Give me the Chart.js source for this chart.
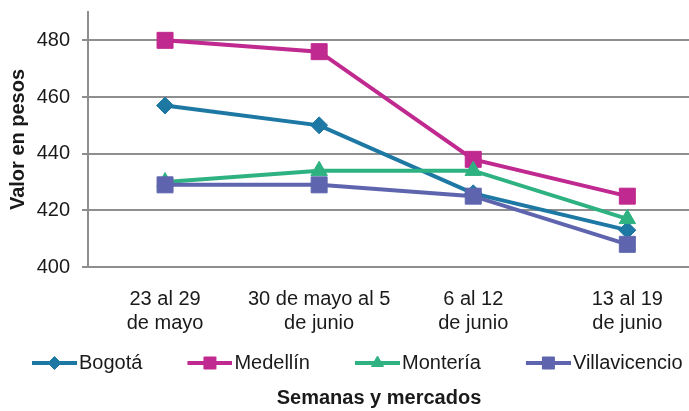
<!DOCTYPE html>
<html>
<head>
<meta charset="utf-8">
<script src="https://cdn.jsdelivr.net/npm/chart.js@4"></script>
<style>
	html, body { margin: 0; background: #fff; overflow: hidden; }
	canvas { display: block; }
</style>
</head>
<body>
<!-- the plot area runs a little past the right edge of the window, like the original -->
<canvas id="priceChart" width="709" height="411"></canvas>
<script>
// Weeks (x axis), two lines per label
const weekLabels = [
	["23 al 29", "de mayo"],
	["30 de mayo al 5", "de junio"],
	["6 al 12", "de junio"],
	["13 al 19", "de junio"]
];

const markets = ["Bogotá", "Medellín", "Montería", "Villavicencio"];

// Valor en pesos por semana
const bogota = [457, 450, 426, 413];
const medellin = [480, 476, 438, 425];
const monteria = [430, 434, 434, 417];
const villavicencio = [429, 429, 425, 408];

const yTicks = [400, 420, 440, 460, 480];

const FONT = "'Liberation Sans', Arial, sans-serif";
const TEXT = "#1a1a1a";
const GRID = "#8e8e8e";

const series = [
	{ values: bogota, color: "#1d78a4", style: "rectRot", radius: 8.5, legendRadius: 6.5 },
	{ values: medellin, color: "#c0298f", style: "rect", radius: 11.3, legendRadius: 8.5 },
	{ values: monteria, color: "#2fb282", style: "triangle", radius: 9.5, legendRadius: 7 },
	{ values: villavicencio, color: "#5e65ae", style: "rect", radius: 11.3, legendRadius: 8.5 }
];

// legend icon: short line with the marker in the middle,
// drawn centred on the legend box so the empty left part acts as spacing
function makeIcon(s) {
	const c = document.createElement("canvas");
	c.width = 88;
	c.height = 20;
	const ctx = c.getContext("2d");
	ctx.strokeStyle = s.color;
	ctx.fillStyle = s.color;
	ctx.lineWidth = 4;
	ctx.beginPath();
	ctx.moveTo(43, 10);
	ctx.lineTo(88, 10);
	ctx.stroke();
	ctx.lineWidth = 1;
	Chart.helpers.drawPoint(ctx, { pointStyle: s.style, radius: s.legendRadius, rotation: 0, borderWidth: 1 }, 65.5, 10);
	return c;
}
const legendIcons = series.map(makeIcon);

// x axis caption sits below the legend
const axisCaption = {
	id: "axisCaption",
	afterDraw(chart) {
		const ctx = chart.ctx;
		ctx.save();
		ctx.font = "bold 20px " + FONT;
		ctx.fillStyle = TEXT;
		ctx.textAlign = "center";
		ctx.textBaseline = "middle";
		ctx.fillText("Semanas y mercados", chart.chartArea.left + 291, chart.height - 13);
		ctx.restore();
	}
};

Chart.defaults.font.family = FONT;
Chart.defaults.font.size = 20;
Chart.defaults.color = TEXT;

const ctx = document.getElementById("priceChart").getContext("2d");
new Chart(ctx, {
	type: "line",
	data: {
		datasets: series.map((s, i) => ({
			label: markets[i],
			data: s.values.map((v, j) => ({ x: j, y: v })),
			borderColor: s.color,
			backgroundColor: s.color,
			borderWidth: 4,
			pointStyle: s.style,
			pointRadius: s.radius,
			pointBorderWidth: 1,
			pointBackgroundColor: s.color,
			pointBorderColor: s.color,
			tension: 0,
			order: series.length - i
		}))
	},
	options: {
		responsive: false,
		animation: false,
		layout: {
			autoPadding: false,
			padding: { left: -13, top: 12, right: 0, bottom: 28 }
		},
		scales: {
			x: {
				type: "linear",
				min: -0.5,
				max: 3.53,
				grid: { display: false, drawTicks: false },
				border: { display: true, color: GRID, width: 2 },
				afterBuildTicks: axis => {
					axis.ticks = weekLabels.map((_, i) => ({ value: i }));
				},
				afterFit: scale => {
					scale.height = 76;
					scale.paddingLeft = 0;
					scale.paddingRight = 0;
				},
				ticks: {
					padding: 20,
					maxRotation: 0,
					autoSkip: false,
					font: { size: 20, lineHeight: 1.2 },
					callback: value => weekLabels[value]
				}
			},
			y: {
				min: 400,
				max: 490,
				afterBuildTicks: axis => {
					axis.ticks = yTicks.map(v => ({ value: v }));
				},
				afterFit: scale => {
					scale.width = 101;
					scale.paddingTop = 0;
					scale.paddingBottom = 0;
				},
				grid: { color: GRID, lineWidth: 2, tickLength: 6 },
				border: { display: true, color: GRID, width: 2 },
				ticks: { padding: 12, font: { size: 20 } },
				title: {
					display: true,
					text: "Valor en pesos",
					font: { size: 20, weight: "bold", lineHeight: 1.2 },
					padding: { top: 19, bottom: 0 }
				}
			}
		},
		plugins: {
			legend: {
				position: "bottom",
				align: "start",
				labels: {
					usePointStyle: true,
					pointStyleWidth: 72,
					padding: 10,
					font: { size: 20 },
					generateLabels: chart => chart.data.datasets.map((ds, i) => ({
						text: ds.label,
						pointStyle: legendIcons[i],
						fillStyle: ds.borderColor,
						strokeStyle: ds.borderColor,
						lineWidth: 0,
						hidden: false,
						datasetIndex: i,
						fontColor: TEXT
					}))
				}
			},
			tooltip: { enabled: false }
		}
	},
	plugins: [axisCaption]
});
</script>
</body>
</html>
